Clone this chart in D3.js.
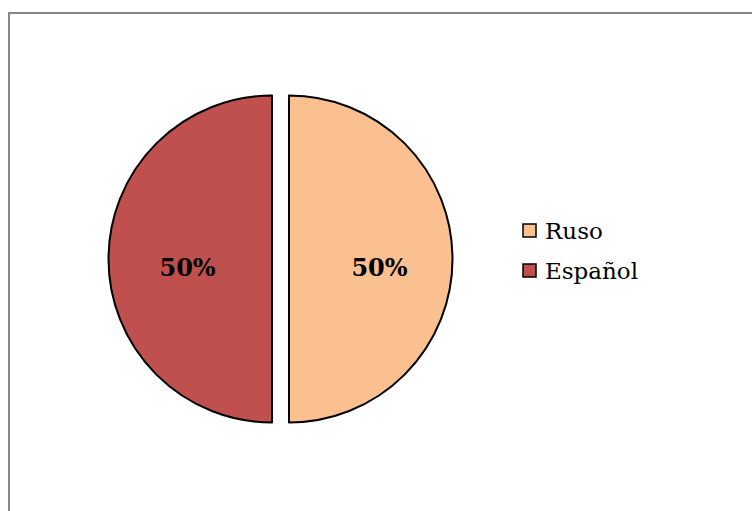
<!DOCTYPE html>
<html>
<head>
	<meta charset="UTF-8">
	<title>Ruso / Español</title>
	<style>
		body { margin: 0; background: #fff; }
		svg { display: block; }
	</style>
</head>
<body>
	<div class="chart"></div>

	<script src="https://d3js.org/d3.v7.min.js"></script>
	<script>
		// data
		var categories = ["Ruso", "Español"];
		var values = [50, 50];
		var colors = ["#FAC090", "#C0504D"];

		var w = 752;
		var h = 511;

		var cx = 280.5, cy = 259;
		var radius = 163.5;
		var explode = 8.5;

		var SVG = d3.select("div.chart").append("svg")
					.attr("width", w)
					.attr("height", h);

		/* chart frame */
		SVG.append("rect")
			.attr("x", 9)
			.attr("y", 13)
			.attr("width", w + 20)
			.attr("height", h + 20)
			.attr("fill", "none")
			.attr("stroke", "#888888")
			.attr("stroke-width", 2);

		var pie = d3.pie().sort(null)(values);

		var arc = d3.arc().innerRadius(0).outerRadius(radius);
		var labelArc = d3.arc().innerRadius(radius * 0.535).outerRadius(radius * 0.535);

		var slices = SVG.append("g")
			.attr("transform", "translate(" + cx + "," + cy + ")")
			.selectAll("g")
			.data(pie)
			.enter()
			.append("g")
			.attr("transform", function(d){
				var a = (d.startAngle + d.endAngle) / 2;
				return "translate(" + (Math.sin(a) * explode) + "," + (-Math.cos(a) * explode) + ")";
			});

		slices.append("path")
			.attr("d", arc)
			.attr("fill", function(d, i){ return colors[i]; })
			.attr("stroke", "#000")
			.attr("stroke-width", 2)
			.attr("stroke-linejoin", "round");

		slices.append("text")
			.attr("transform", function(d){
				var c = labelArc.centroid(d);
				return "translate(" + (c[0] + 3) + "," + (c[1] + 17) + ")";
			})
			.attr("text-anchor", "middle")
			.attr("font-family", "DejaVu Serif, serif")
			.attr("font-weight", "bold")
			.attr("font-size", "24px")
			.attr("fill", "#000")
			.text(function(d){ return Math.round(d.value / d3.sum(values) * 100) + "%"; });

		/* legend */
		var legend = SVG.append("g")
			.selectAll("g")
			.data(categories)
			.enter()
			.append("g")
			.attr("transform", function(d, i){ return "translate(523," + (224 + i * 40) + ")"; });

		legend.append("rect")
			.attr("width", 13)
			.attr("height", 13)
			.attr("fill", function(d, i){ return colors[i]; })
			.attr("stroke", "#000")
			.attr("stroke-width", 1.5);

		legend.append("text")
			.attr("x", 22)
			.attr("y", 15)
			.attr("font-family", "DejaVu Serif, serif")
			.attr("font-size", "23px")
			.attr("fill", "#000")
			.text(function(d){ return d; });
	</script>
</body>
</html>
